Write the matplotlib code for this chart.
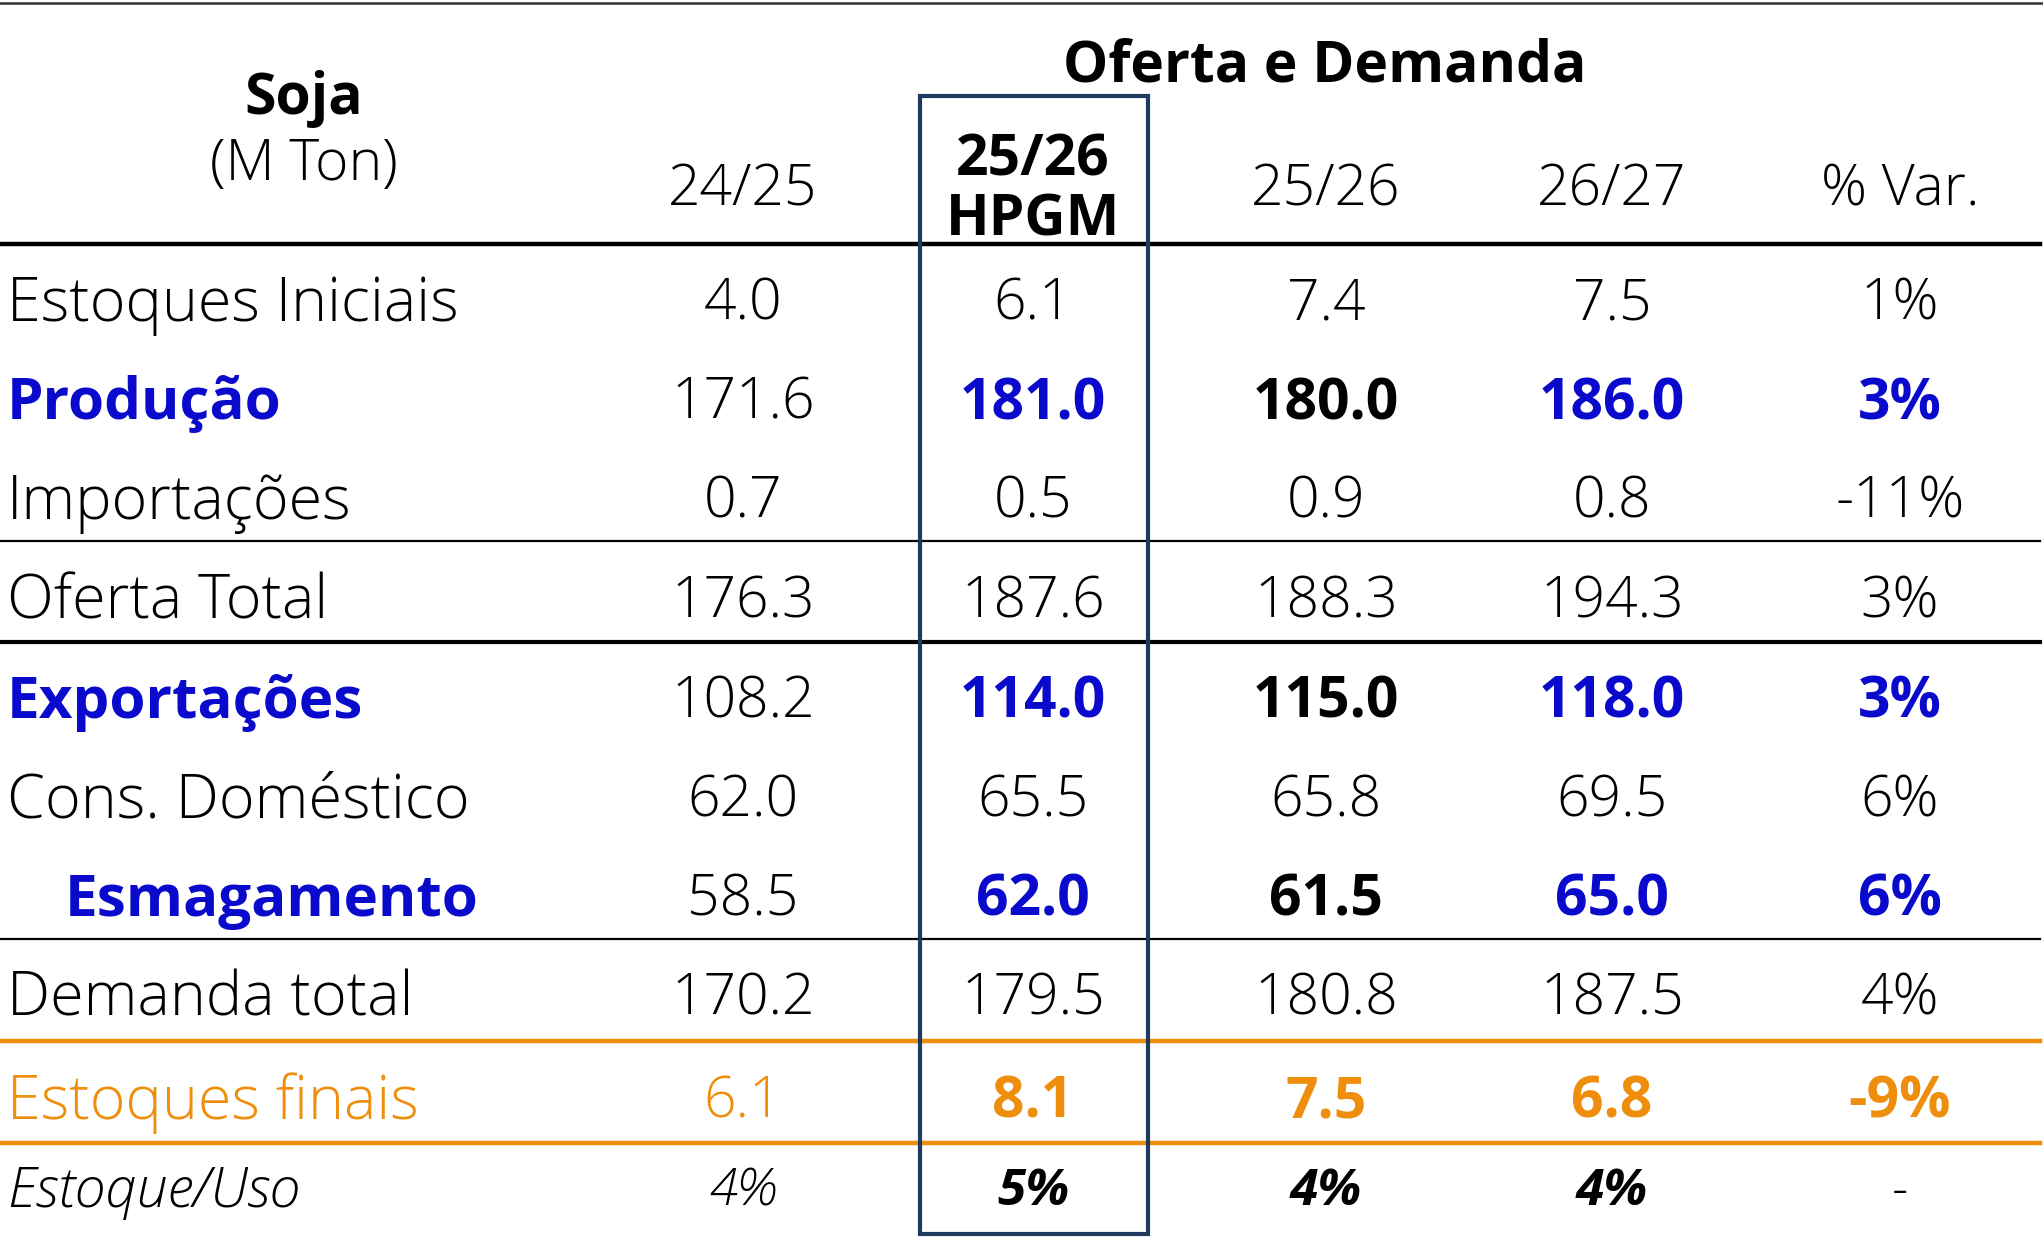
import matplotlib
matplotlib.use("Agg")
import matplotlib.pyplot as plt
from matplotlib.patches import Rectangle

# table data
row_labels = ["Estoques Iniciais", "Produção", "Importações", "Oferta Total",
              "Exportações", "Cons. Doméstico", "Esmagamento", "Demanda total",
              "Estoques finais", "Estoque/Uso"]
col_24_25 = ["4.0", "171.6", "0.7", "176.3", "108.2", "62.0", "58.5", "170.2", "6.1", "4%"]
col_25_26_hpgm = ["6.1", "181.0", "0.5", "187.6", "114.0", "65.5", "62.0", "179.5", "8.1", "5%"]
col_25_26 = ["7.4", "180.0", "0.9", "188.3", "115.0", "65.8", "61.5", "180.8", "7.5", "4%"]
col_26_27 = ["7.5", "186.0", "0.8", "194.3", "118.0", "69.5", "65.0", "187.5", "6.8", "4%"]
col_var = ["1%", "3%", "-11%", "3%", "3%", "6%", "6%", "4%", "-9%", "-"]
col_headers = ["24/25", "25/26", "26/27", "% Var."]

BLUE = "#0A0ACC"
ORANGE = "#EE8E0C"
NAVY = "#1F3A5F"
FONT = "Open Sans"
FS = 41       # numbers / headers
FS_LAB = 44   # row labels
FS_LAB_B = 42 # bold row labels

# rows highlighted in blue bold
blue_rows = ["Produção", "Exportações", "Esmagamento"]

W, H = 2043, 1241
fig = plt.figure(figsize=(W / 100, H / 100), dpi=100)
ax = fig.add_axes([0, 0, 1, 1])
ax.set_xlim(0, W)
ax.set_ylim(H, 0)
ax.axis("off")

DY = 5
row_y = [300, 399, 498, 598, 698, 797, 896, 995, 1098, 1187]
col_x = [743, 1033, 1326, 1612, 1900]


def txt(x, y, s, color="black", bold=False, italic=False, ha="center", size=FS):
    ax.text(x, y + DY, s, ha=ha, va="center", color=color, fontsize=size,
            fontweight="bold" if bold else "light",
            fontstyle="italic" if italic else "normal", family=FONT)


# header
txt(304, 94, "Soja", bold=True)
txt(304, 160, "(M Ton)")
txt(1325, 62, "Oferta e Demanda", bold=True)
txt(col_x[0], 186, col_headers[0])
txt(col_x[1], 156, "25/26", bold=True)
txt(col_x[1], 215, "HPGM", bold=True)
for x, h in zip(col_x[2:], col_headers[1:]):
    txt(x, 186, h)

cols = [col_24_25, col_25_26_hpgm, col_25_26, col_26_27, col_var]
for i, (lab, y) in enumerate(zip(row_labels, row_y)):
    if lab in blue_rows:
        txt(65 if lab == "Esmagamento" else 7, y, lab, color=BLUE, bold=True,
            ha="left", size=FS_LAB_B)
        txt(col_x[0], y, cols[0][i])
        txt(col_x[1], y, cols[1][i], color=BLUE, bold=True)
        txt(col_x[2], y, cols[2][i], bold=True)
        txt(col_x[3], y, cols[3][i], color=BLUE, bold=True)
        txt(col_x[4], y, cols[4][i], color=BLUE, bold=True)
    elif lab == "Estoques finais":
        txt(7, y, lab, color=ORANGE, ha="left", size=FS_LAB)
        txt(col_x[0], y, cols[0][i], color=ORANGE)
        for k in range(1, 5):
            txt(col_x[k], y, cols[k][i], color=ORANGE, bold=True)
    elif lab == "Estoque/Uso":
        fs = FS - 4
        txt(7, y, lab, italic=True, ha="left", size=40)
        txt(col_x[0], y, cols[0][i], italic=True, size=fs)
        for k in range(1, 4):
            txt(col_x[k], y, cols[k][i], bold=True, italic=True, size=fs)
        txt(col_x[4], y, cols[4][i], size=fs)
    else:
        txt(7, y, lab, ha="left", size=FS_LAB)
        for k in range(5):
            txt(col_x[k], y, cols[k][i])

# rules
ax.plot([0, W], [3, 3], color="#333333", lw=1.8)
ax.plot([0, 2040], [244, 244], color="black", lw=3.2)
ax.plot([0, 2040], [541, 541], color="black", lw=1.6)
ax.plot([0, 2040], [642, 642], color="black", lw=3.0)
ax.plot([0, 2040], [939, 939], color="black", lw=1.6)
ax.plot([0, 2040], [1041, 1041], color=ORANGE, lw=3.2)
ax.plot([0, 2040], [1143, 1143], color=ORANGE, lw=3.2)

# highlight box around HPGM column
ax.add_patch(Rectangle((920, 96), 228, 1138, fill=False, edgecolor=NAVY, lw=3.0, zorder=5))

fig.savefig("out.png", dpi=100)
